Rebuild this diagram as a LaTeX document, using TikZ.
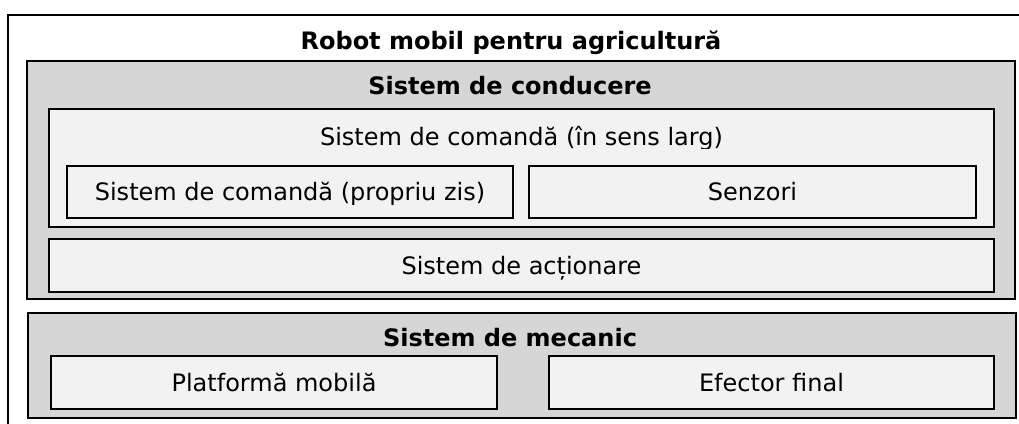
\documentclass[tikz,border=0pt]{standalone}
\usepackage{fontspec}
\setmainfont{DejaVu Sans}
\definecolor{grifond}{RGB}{214,214,214}
\definecolor{albfond}{RGB}{242,242,242}
\tikzset{
  grup/.style={draw, fill=grifond, inner sep=0pt},
  modul/.style={draw, fill=albfond, inner sep=0pt, text height=17.5pt, text depth=0pt},
  titlu/.style={font=\fontsize{24}{29}\selectfont\bfseries, anchor=base},
}
\begin{document}
\begin{tikzpicture}[x=1pt, y=-1pt, line width=2.2pt, font=\fontsize{24}{29}\selectfont]
	\useasboundingbox (0,0) rectangle (1019,423);
	\clip (0,0) rectangle (1019,423);
	% cadrul exterior
	\node[draw, inner sep=0pt, minimum width=1040pt, minimum height=440pt, anchor=north west] (robot) at (7,14) {};
	\node[titlu] (tRobot) at (511,49) {Robot mobil pentru agricultură};
	% sistemul de conducere
	\node[grup, minimum width=988pt, minimum height=238pt] (conducere) at (521,180) {};
	\node[titlu] (tConducere) at (510,94) {Sistem de conducere};
	\node[modul, minimum width=945pt, minimum height=118pt] (larg) at (521.5,168) {};
	\begin{scope}
		\clip (49,109) rectangle (994,148);
		\node[anchor=base] (tLarg) at (521.5,145) {Sistem de comandă (în sens larg)};
	\end{scope}
	\node[modul, minimum width=446pt, minimum height=52pt] (propriu) at (290,192) {Sistem de comandă (propriu zis)};
	\node[modul, minimum width=447pt, minimum height=52pt] (senzori) at (752.5,192) {Senzori};
	\node[modul, minimum width=945pt, minimum height=53pt] (actionare) at (521.5,265.5) {Sistem de acționare};
	% sistemul mecanic
	\node[grup, minimum width=988pt, minimum height=105pt] (mecanic) at (522,365.5) {};
	\node[titlu] (tMecanic) at (510,346) {Sistem de mecanic};
	\node[modul, minimum width=446pt, minimum height=53pt] (platforma) at (274,382.5) {Platformă mobilă};
	\node[modul, minimum width=445pt, minimum height=53pt] (efector) at (771.5,382.5) {Efector final};
\end{tikzpicture}
\end{document}
